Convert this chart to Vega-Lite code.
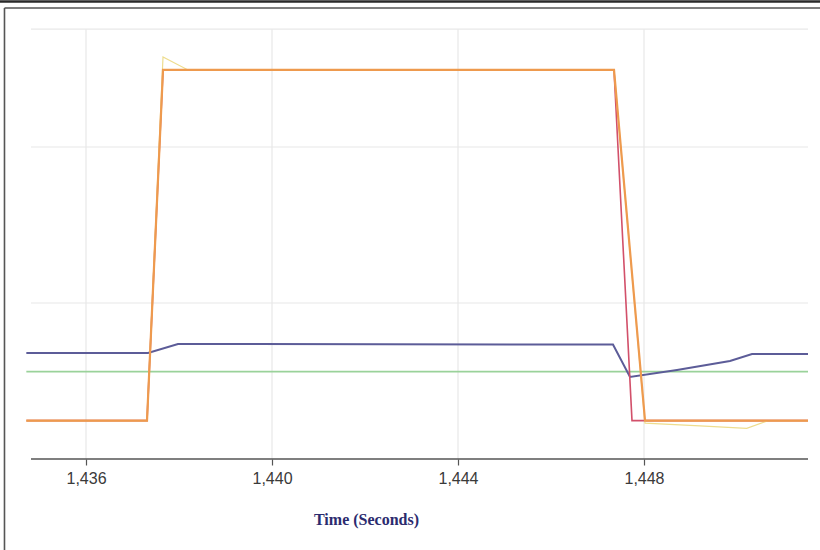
{
  "$schema": "https://vega.github.io/schema/vega-lite/v6.json",
  "width": 820,
  "height": 550,
  "autosize": {"type": "none"},
  "padding": 0,
  "background": "white",
  "config": {"view": {"stroke": null}},
  "datasets": {
    "grid": [
      {"t": 1436, "t2": 1436, "v": 0, "v2": 27.56},
      {"t": 1440, "t2": 1440, "v": 0, "v2": 27.56},
      {"t": 1444, "t2": 1444, "v": 0, "v2": 27.56},
      {"t": 1448, "t2": 1448, "v": 0, "v2": 27.56},
      {"t": 1434.817, "t2": 1451.527, "v": 10, "v2": 10},
      {"t": 1434.817, "t2": 1451.527, "v": 20, "v2": 20},
      {"t": 1434.817, "t2": 1451.527, "v": 27.56, "v2": 27.56}
    ],
    "frame": [
      {"t": 1434.247, "t2": 1434.247, "v": 28.91, "v2": -5.833},
      {"t": 1434.247, "t2": 1451.785, "v": 28.91, "v2": 28.91}
    ],
    "frametop": [
      {"t": 1434.1505, "t2": 1451.785, "v": 29.33, "v2": 29.33}
    ],
    "axisline": [
      {"t": 1434.817, "t2": 1451.527, "v": 0, "v2": 0}
    ],
    "green": [
      {"t": 1434.717, "v": 5.6},
      {"t": 1451.527, "v": 5.6}
    ],
    "blue": [
      {"t": 1434.717, "v": 6.79},
      {"t": 1437.333, "v": 6.79},
      {"t": 1437.978, "v": 7.37},
      {"t": 1447.333, "v": 7.34},
      {"t": 1447.699, "v": 5.26},
      {"t": 1448.71, "v": 5.71},
      {"t": 1449.849, "v": 6.28},
      {"t": 1450.323, "v": 6.73},
      {"t": 1451.527, "v": 6.73}
    ],
    "red": [
      {"t": 1434.717, "v": 2.46},
      {"t": 1437.312, "v": 2.46},
      {"t": 1437.656, "v": 24.94},
      {"t": 1447.355, "v": 24.94},
      {"t": 1447.742, "v": 2.46},
      {"t": 1451.527, "v": 2.46}
    ],
    "orange": [
      {"t": 1434.717, "v": 2.46},
      {"t": 1437.312, "v": 2.46},
      {"t": 1437.656, "v": 24.94},
      {"t": 1447.355, "v": 24.94},
      {"t": 1448.022, "v": 2.46},
      {"t": 1451.527, "v": 2.46}
    ],
    "yellow": [
      {"t": 1434.717, "v": 2.46},
      {"t": 1437.312, "v": 2.46},
      {"t": 1437.656, "v": 25.77},
      {"t": 1438.194, "v": 24.94},
      {"t": 1447.355, "v": 24.94},
      {"t": 1448.022, "v": 2.3},
      {"t": 1449.204, "v": 2.12},
      {"t": 1450.209, "v": 1.97},
      {"t": 1450.667, "v": 2.46},
      {"t": 1451.527, "v": 2.46}
    ]
  },
  "encoding": {
    "x": {
      "field": "t",
      "type": "quantitative",
      "scale": {"domain": [1434.1505, 1451.785], "nice": false, "zero": false},
      "axis": {
        "values": [1436, 1440, 1444, 1448],
        "format": ",",
        "grid": false,
        "domain": false,
        "offset": -91,
        "tickSize": 6,
        "tickColor": "#555555",
        "tickWidth": 1.2,
        "labelFlush": false,
        "labelFont": "Liberation Sans Narrow, Liberation Sans, sans-serif",
        "labelFontSize": 16,
        "labelColor": "#3a3a3a",
        "labelPadding": 5,
        "title": "Time (Seconds)",
        "titleFont": "Liberation Serif, DejaVu Serif, serif",
        "titleFontSize": 16,
        "titleFontWeight": "bold",
        "titleColor": "#2b2b6e",
        "titleX": 366,
        "titleY": 60,
        "titleAlign": "center",
        "titleBaseline": "middle",
        "titleAnchor": null
      }
    },
    "y": {
      "field": "v",
      "type": "quantitative",
      "scale": {"domain": [-5.833, 29.423], "nice": false, "zero": false},
      "axis": null
    }
  },
  "layer": [
    {
      "data": {"name": "grid"},
      "mark": {"type": "rule", "color": "#e8e8e8", "strokeWidth": 1.2},
      "encoding": {"x2": {"field": "t2"}, "y2": {"field": "v2"}}
    },
    {
      "data": {"name": "frame"},
      "mark": {"type": "rule", "color": "#555555", "strokeWidth": 1.6},
      "encoding": {"x2": {"field": "t2"}, "y2": {"field": "v2"}}
    },
    {
      "data": {"name": "frametop"},
      "mark": {"type": "rule", "color": "#2a2a2a", "strokeWidth": 2.5},
      "encoding": {"x2": {"field": "t2"}, "y2": {"field": "v2"}}
    },
    {
      "data": {"name": "axisline"},
      "mark": {"type": "rule", "color": "#555555", "strokeWidth": 1.5},
      "encoding": {"x2": {"field": "t2"}, "y2": {"field": "v2"}}
    },
    {
      "data": {"name": "green"},
      "mark": {"type": "line", "color": "#9ad29a", "strokeWidth": 1.6},
      "encoding": {}
    },
    {
      "data": {"name": "blue"},
      "mark": {"type": "line", "color": "#5c5c98", "strokeWidth": 2},
      "encoding": {}
    },
    {
      "data": {"name": "red"},
      "mark": {"type": "line", "color": "#d2506a", "strokeWidth": 1.6},
      "encoding": {}
    },
    {
      "data": {"name": "yellow"},
      "mark": {"type": "line", "color": "#eedd8e", "strokeWidth": 1.2},
      "encoding": {}
    },
    {
      "data": {"name": "orange"},
      "mark": {"type": "line", "color": "#ee9a4e", "strokeWidth": 2.2},
      "encoding": {}
    }
  ]
}
